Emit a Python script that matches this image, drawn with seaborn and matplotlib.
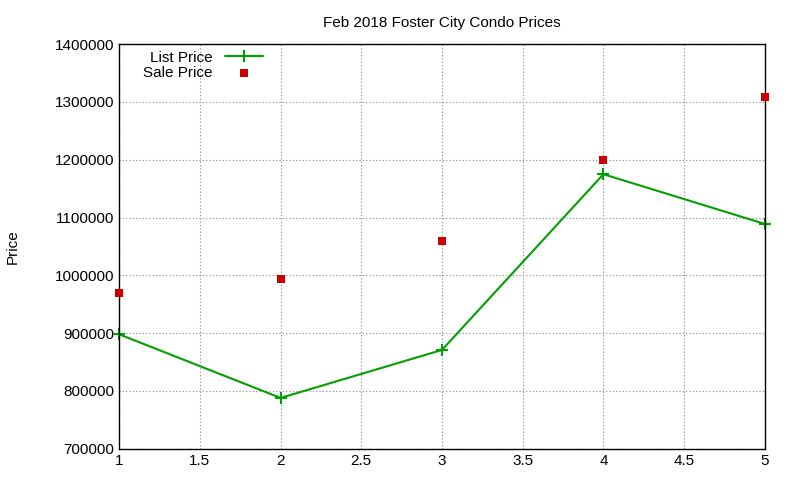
import matplotlib
matplotlib.use("Agg")
import matplotlib.pyplot as plt
import seaborn as sns
import pandas as pd

x = [1, 2, 3, 4, 5]
list_price = [898000, 788000, 871000, 1175000, 1089000]
sale_price = [970000, 994000, 1060000, 1200000, 1309000]

sns.set_style("white")
plt.rcParams['font.family'] = ['Liberation Sans', 'DejaVu Sans']
plt.rcParams['text.color'] = 'black'
plt.rcParams['xtick.color'] = 'black'
plt.rcParams['ytick.color'] = 'black'
plt.rcParams['axes.labelcolor'] = 'black'
fig = plt.figure(figsize=(8, 4.8), dpi=100)
ax = fig.add_axes([0.149, 0.065, 0.807, 0.843])
df = pd.DataFrame({"x": x, "list": list_price, "sale": sale_price})
sns.lineplot(data=df, x="x", y="list", ax=ax, color="#00a000", marker="+",
             markersize=8, markeredgewidth=1.5, markeredgecolor="#00a000",
             linewidth=1.5, label="List Price", clip_on=False)
sns.scatterplot(data=df, x="x", y="sale", ax=ax, color="#cc0000", marker="s",
                s=40, linewidth=0, label="Sale Price", clip_on=False, zorder=5)
ax.set_xlim(1, 5)
ax.set_ylim(700000, 1400000)
ax.set_xticks([1, 1.5, 2, 2.5, 3, 3.5, 4, 4.5, 5])
ax.set_xticklabels(["1", "1.5", "2", "2.5", "3", "3.5", "4", "4.5", "5"])
ax.set_yticks(range(700000, 1400001, 100000))
ax.ticklabel_format(axis="y", style="plain", useOffset=False)
ax.grid(True, linestyle=(0, (1, 2)), color="#888888", linewidth=0.8)
for s in ax.spines.values():
    s.set_color("black"); s.set_linewidth(1)
ax.tick_params(direction="in", length=5, labelsize=11, color="black")
ax.set_xlabel("")
ax.set_ylabel("Price", fontsize=11, labelpad=25)
ax.set_title("Feb 2018 Foster City Condo Prices", fontsize=11, pad=12)
ax.legend(loc="upper left", bbox_to_anchor=(0.02, 1.01), frameon=False,
          markerfirst=False, fontsize=11, handlelength=2.5, borderpad=0.2,
          labelspacing=0.05)
fig.savefig("out.png", dpi=100)
